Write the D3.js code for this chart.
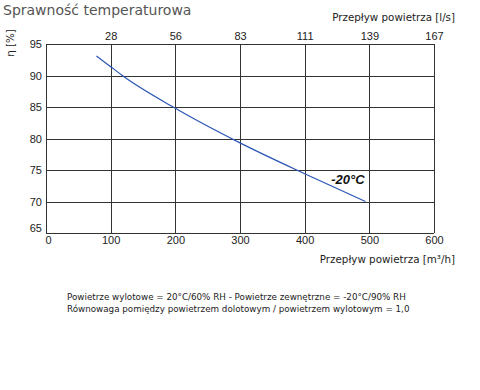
<!DOCTYPE html>
<html lang="pl">
<head>
<meta charset="UTF-8">
<title>Sprawność temperaturowa</title>
<script src="https://d3js.org/d3.v7.min.js"></script>
<style>
    body { margin: 0; background: #fff; }
    svg { display: block; }
    .tick text { font-family: "Liberation Sans", Arial, sans-serif; font-size: 11px; fill: #222; }
    .lbl { font-family: "DejaVu Sans", Verdana, sans-serif; fill: #222; }
</style>
</head>
<body>
<svg width="480" height="390"></svg>
<script>
    // data
    let flowM3h = [78, 100, 118, 200, 300, 400, 494];
    let efficiency = [93.1, 91.4, 90.0, 84.8, 79.3, 74.4, 70.0];
    let xTicks = [0, 100, 200, 300, 400, 500, 600];
    let topTickLabels = ["28", "56", "83", "111", "139", "167"];
    let yTicks = [65, 70, 75, 80, 85, 90, 95];
    let seriesLabel = "-20°C";
    let notes = [
        "Powietrze wylotowe = 20°C/60% RH - Powietrze zewnętrzne = -20°C/90% RH",
        "Równowaga pomiędzy powietrzem dolotowym / powietrzem wylotowym = 1,0"
    ];

    let svg = d3.select("svg");
    let plot = {left: 46, right: 434, top: 44, bottom: 233};

    let x = d3.scaleLinear().domain([0, 600]).range([plot.left, plot.right]);
    let y = d3.scaleLinear().domain([65, 95]).range([plot.bottom, plot.top]);

    // grid
    let grid = svg.append("g").attr("stroke", "#333").attr("stroke-width", 1);
    grid.selectAll(".v").data(xTicks).enter().append("line")
        .attr("x1", d => Math.round(x(d)) + 0.5).attr("x2", d => Math.round(x(d)) + 0.5)
        .attr("y1", plot.top).attr("y2", plot.bottom);
    grid.selectAll(".h").data(yTicks).enter().append("line")
        .attr("y1", d => Math.round(y(d)) + 0.5).attr("y2", d => Math.round(y(d)) + 0.5)
        .attr("x1", plot.left).attr("x2", plot.right);

    // axes (labels only)
    let xAxis = svg.append("g").attr("transform", "translate(0," + plot.bottom + ")")
        .call(d3.axisBottom(x).tickValues(xTicks).tickSize(0).tickPadding(3));
    xAxis.select(".domain").remove();
    xAxis.selectAll(".tick").filter(d => d === 0).select("text").attr("dx", 2);

    let topAxis = svg.append("g").attr("transform", "translate(0," + plot.top + ")")
        .call(d3.axisTop(x).tickValues(xTicks.slice(1)).tickSize(0).tickPadding(4)
            .tickFormat((d, i) => topTickLabels[i]));
    topAxis.select(".domain").remove();

    let yAxis = svg.append("g").attr("transform", "translate(" + plot.left + ",0)")
        .call(d3.axisLeft(y).tickValues(yTicks).tickSize(0).tickPadding(4));
    yAxis.select(".domain").remove();
    yAxis.selectAll(".tick").filter(d => d === 65).select("text").attr("dy", "-0.1em");

    // curve
    let pts = flowM3h.map((d, i) => [d, efficiency[i]]);
    svg.append("path").datum(pts)
        .attr("fill", "none").attr("stroke", "#2a55b5").attr("stroke-width", 1.2)
        .attr("d", d3.line().x(d => x(d[0])).y(d => y(d[1])).curve(d3.curveMonotoneX));

    svg.append("text").attr("x", x(441)).attr("y", y(72.8))
        .attr("font-family", "Liberation Sans, Arial, sans-serif").attr("font-size", 13)
        .attr("font-weight", "bold").attr("font-style", "italic").attr("fill", "#111")
        .text(seriesLabel);

    // titles
    svg.append("text").attr("class", "lbl").attr("x", 3).attr("y", 15)
        .attr("font-size", 14).style("fill", "#555")
        .text("Sprawność temperaturowa");
    svg.append("text").attr("class", "lbl").attr("x", 455).attr("y", 21)
        .attr("text-anchor", "end").attr("font-size", 10.3)
        .text("Przepływ powietrza  [l/s]");
    svg.append("text").attr("class", "lbl").attr("x", 455).attr("y", 263)
        .attr("text-anchor", "end").attr("font-size", 10.3)
        .text("Przepływ powietrza  [m³/h]");
    svg.append("text").attr("class", "lbl")
        .attr("transform", "translate(14,43) rotate(-90)")
        .attr("text-anchor", "middle").attr("font-size", 10.3)
        .text("η [%]");

    svg.selectAll(".note").data(notes).enter().append("text").attr("class", "lbl")
        .attr("x", 67).attr("y", (d, i) => 300 + i * 11.5)
        .attr("font-size", 8.75)
        .text(d => d);
</script>
</body>
</html>
